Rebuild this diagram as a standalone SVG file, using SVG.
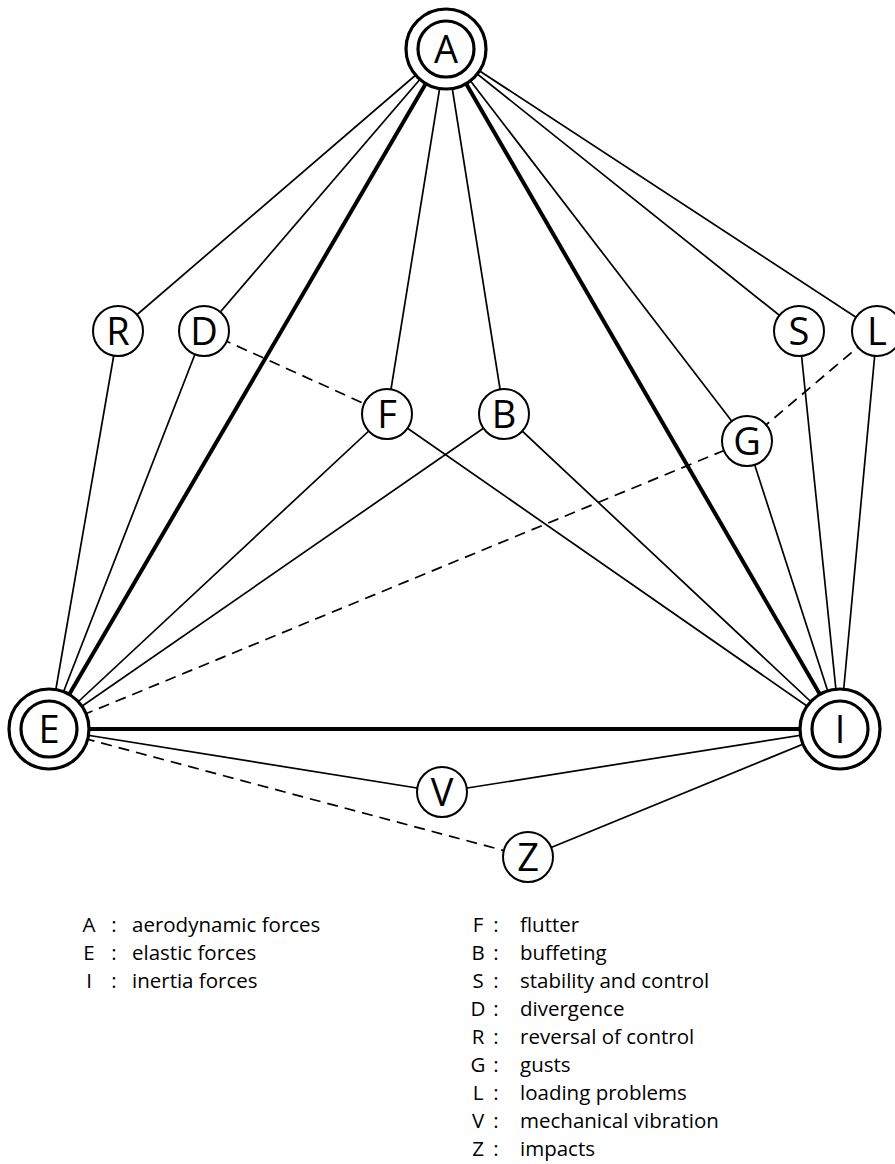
<svg xmlns="http://www.w3.org/2000/svg" width="895" height="1164" viewBox="0 0 895 1164">
<style>
.bg{fill:#fff}
.e{stroke:#000;stroke-width:1.7;fill:none}
.t{stroke:#000;stroke-width:4;fill:none}
.d{stroke:#000;stroke-width:1.7;fill:none;stroke-dasharray:11 7}
.n{fill:#fff;stroke:#000;stroke-width:2}
.bo{fill:#fff;stroke:#000;stroke-width:3.2}
.bi{fill:#fff;stroke:#000;stroke-width:3.2}
.l{font-family:"Open Sans","Liberation Sans",sans-serif;font-size:38px;text-anchor:middle;fill:#000}
.g{font-family:"Open Sans","Liberation Sans",sans-serif;font-size:20.5px;fill:#000}
.m{text-anchor:middle}
</style>
<rect class="bg" x="0" y="0" width="895" height="1164"/>
<g id="connectors">
<line class="e" x1="446" y1="49" x2="118" y2="331"/>
<line class="e" x1="446" y1="49" x2="204" y2="331"/>
<line class="e" x1="446" y1="49" x2="387" y2="414"/>
<line class="e" x1="446" y1="49" x2="504" y2="414"/>
<line class="e" x1="446" y1="49" x2="799" y2="331"/>
<line class="e" x1="446" y1="49" x2="877" y2="331"/>
<line class="e" x1="446" y1="49" x2="747" y2="441"/>
<line class="t" x1="446" y1="49" x2="49" y2="729"/>
<line class="t" x1="446" y1="49" x2="840" y2="729"/>
<line class="t" x1="49" y1="729" x2="840" y2="729"/>
<line class="e" x1="49" y1="729" x2="118" y2="331"/>
<line class="e" x1="49" y1="729" x2="204" y2="331"/>
<line class="e" x1="49" y1="729" x2="387" y2="414"/>
<line class="e" x1="49" y1="729" x2="504" y2="414"/>
<line class="d" x1="49" y1="729" x2="747" y2="441"/>
<line class="e" x1="49" y1="729" x2="442" y2="792"/>
<line class="d" x1="49" y1="729" x2="528" y2="857"/>
<line class="e" x1="840" y1="729" x2="387" y2="414"/>
<line class="e" x1="840" y1="729" x2="504" y2="414"/>
<line class="e" x1="840" y1="729" x2="747" y2="441"/>
<line class="e" x1="840" y1="729" x2="799" y2="331"/>
<line class="e" x1="840" y1="729" x2="877" y2="331"/>
<line class="e" x1="840" y1="729" x2="442" y2="792"/>
<line class="e" x1="840" y1="729" x2="528" y2="857"/>
<line class="d" x1="204" y1="331" x2="387" y2="414"/>
<line class="d" x1="747" y1="441" x2="877" y2="331"/>
</g>
<g id="node-A"><circle class="bo" cx="446" cy="49" r="40"/><circle class="bi" cx="446" cy="49" r="28"/><text class="l" x="446" y="63">A</text></g>
<g id="node-E"><circle class="bo" cx="49" cy="729" r="40"/><circle class="bi" cx="49" cy="729" r="28"/><text class="l" x="49" y="743">E</text></g>
<g id="node-I"><circle class="bo" cx="840" cy="729" r="40"/><circle class="bi" cx="840" cy="729" r="28"/><text class="l" x="840" y="743">I</text></g>
<g id="node-R"><circle class="n" cx="118" cy="331" r="25"/><text class="l" x="118" y="345">R</text></g>
<g id="node-D"><circle class="n" cx="204" cy="331" r="25"/><text class="l" x="204" y="345">D</text></g>
<g id="node-F"><circle class="n" cx="387" cy="414" r="25"/><text class="l" x="387" y="428">F</text></g>
<g id="node-B"><circle class="n" cx="504" cy="414" r="25"/><text class="l" x="504" y="428">B</text></g>
<g id="node-S"><circle class="n" cx="799" cy="331" r="25"/><text class="l" x="799" y="345">S</text></g>
<g id="node-L"><circle class="n" cx="877" cy="331" r="25"/><text class="l" x="877" y="345">L</text></g>
<g id="node-G"><circle class="n" cx="747" cy="441" r="25"/><text class="l" x="747" y="455">G</text></g>
<g id="node-V"><circle class="n" cx="442" cy="792" r="25"/><text class="l" x="442" y="806">V</text></g>
<g id="node-Z"><circle class="n" cx="528" cy="857" r="25"/><text class="l" x="528" y="871">Z</text></g>
<g id="legend">
<text class="g m" x="89" y="932">A</text><text class="g m" x="114" y="932">:</text><text class="g" x="132" y="932">aerodynamic forces</text>
<text class="g m" x="89" y="960">E</text><text class="g m" x="114" y="960">:</text><text class="g" x="132" y="960">elastic forces</text>
<text class="g m" x="89" y="988">I</text><text class="g m" x="114" y="988">:</text><text class="g" x="132" y="988">inertia forces</text>
<text class="g m" x="478" y="932">F</text><text class="g m" x="496" y="932">:</text><text class="g" x="520" y="932">flutter</text>
<text class="g m" x="478" y="960">B</text><text class="g m" x="496" y="960">:</text><text class="g" x="520" y="960">buffeting</text>
<text class="g m" x="478" y="988">S</text><text class="g m" x="496" y="988">:</text><text class="g" x="520" y="988">stability and control</text>
<text class="g m" x="478" y="1016">D</text><text class="g m" x="496" y="1016">:</text><text class="g" x="520" y="1016">divergence</text>
<text class="g m" x="478" y="1044">R</text><text class="g m" x="496" y="1044">:</text><text class="g" x="520" y="1044">reversal of control</text>
<text class="g m" x="478" y="1072">G</text><text class="g m" x="496" y="1072">:</text><text class="g" x="520" y="1072">gusts</text>
<text class="g m" x="478" y="1100">L</text><text class="g m" x="496" y="1100">:</text><text class="g" x="520" y="1100">loading problems</text>
<text class="g m" x="478" y="1128">V</text><text class="g m" x="496" y="1128">:</text><text class="g" x="520" y="1128">mechanical vibration</text>
<text class="g m" x="478" y="1156">Z</text><text class="g m" x="496" y="1156">:</text><text class="g" x="520" y="1156">impacts</text>
</g>
</svg>
